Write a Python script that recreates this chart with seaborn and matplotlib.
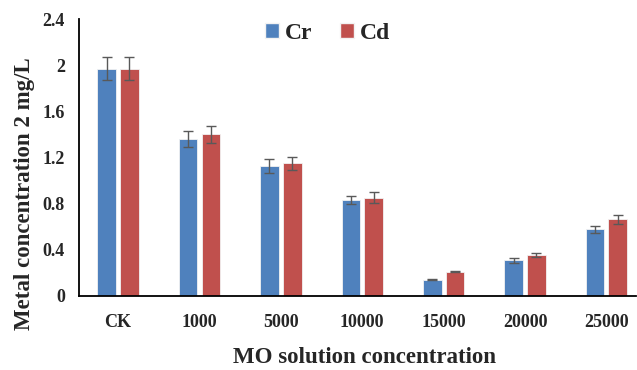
import matplotlib
matplotlib.use("Agg")
import matplotlib.pyplot as plt
import seaborn as sns
import pandas as pd
import numpy as np
from matplotlib.patches import Patch
from matplotlib.ticker import FuncFormatter

categories = ["CK", "1000", "5000", "10000", "15000", "20000", "25000"]
cr_values = [1.97, 1.36, 1.13, 0.83, 0.14, 0.31, 0.58]
cd_values = [1.97, 1.40, 1.15, 0.85, 0.21, 0.355, 0.665]
cr_err = [0.10, 0.068, 0.06, 0.035, 0.005, 0.022, 0.03]
cd_err = [0.10, 0.07, 0.055, 0.048, 0.006, 0.02, 0.037]
series = ["Cr", "Cd"]
colors = {"Cr": "#4F81BD", "Cd": "#C0504D"}

df = pd.DataFrame({
    "cat": categories * 2,
    "metal": ["Cr"] * len(categories) + ["Cd"] * len(categories),
    "value": cr_values + cd_values,
})

sns.set_style("white")
plt.rcParams["font.family"] = ["Liberation Serif", "DejaVu Serif"]
plt.rcParams["font.weight"] = "bold"

fig = plt.figure(figsize=(6.37, 3.70), dpi=100)
ax = fig.add_axes([0.124, 0.2, 0.874, 0.7486])

sns.barplot(data=df, x="cat", y="value", hue="metal", hue_order=series,
            palette=colors, saturation=1, width=0.56, gap=0.18, errorbar=None,
            edgecolor="#f2f2f2", linewidth=0.6, ax=ax, legend=False)

xs = np.arange(len(categories))
offset = 0.14
ax.errorbar(xs - offset, cr_values, yerr=cr_err, fmt="none", ecolor="#595959",
            elinewidth=1.0, capsize=3.5, capthick=1.0, zorder=5)
ax.errorbar(xs + offset, cd_values, yerr=cd_err, fmt="none", ecolor="#595959",
            elinewidth=1.0, capsize=3.5, capthick=1.0, zorder=5)

ax.set_ylim(0, 2.4)
ax.set_xlim(-0.48, 6.36)
ax.set_yticks([0, 0.4, 0.8, 1.2, 1.6, 2.0, 2.4])
ax.yaxis.set_major_formatter(FuncFormatter(lambda v, p: f"{v:g}"))
ax.set_xlabel("")
ax.set_ylabel("")

for s in ["top", "right"]:
    ax.spines[s].set_visible(False)
for s in ["left", "bottom"]:
    ax.spines[s].set_color("black")
    ax.spines[s].set_linewidth(1.3)

ax.tick_params(axis="both", which="major", direction="out", length=5, width=1.2,
               color="black", labelsize=13, pad=5)
ax.tick_params(axis="x", pad=8)
for lbl in ax.get_xticklabels() + ax.get_yticklabels():
    lbl.set_fontweight("bold")

fig.text(0.039, 0.476, "Metal concentration 2 mg/L", rotation=90, ha="center",
         va="center", fontsize=16.5, fontweight="bold")
fig.text(0.572, 0.035, "MO solution concentration", ha="center", va="center",
         fontsize=16.5, fontweight="bold")

handles = [Patch(facecolor=colors[s], edgecolor="#f2f2f2", label=s) for s in series]
fig.legend(handles=handles, loc="center", bbox_to_anchor=(0.514, 0.91), ncol=2,
           frameon=False, prop={"family": "Liberation Serif", "weight": "bold", "size": 17},
           handlelength=0.6, handleheight=0.6, handletextpad=0.25, columnspacing=1.15)

fig.savefig("out.png", dpi=100)
